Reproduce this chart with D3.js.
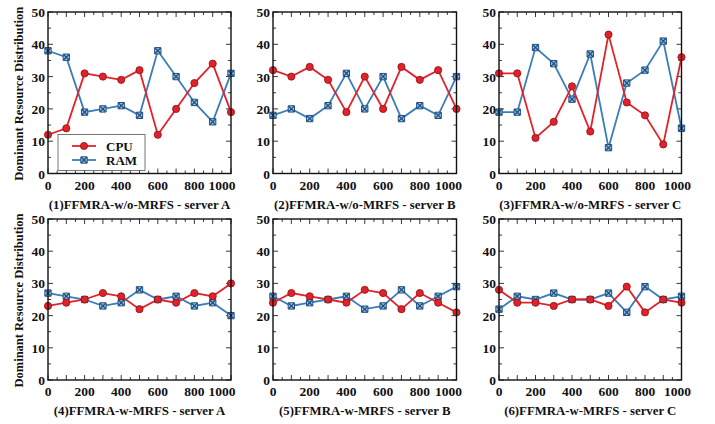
<!DOCTYPE html>
<html><head><meta charset="utf-8">
<script src="https://cdn.jsdelivr.net/npm/d3@7"></script>
<style>
html,body{margin:0;padding:0;background:#fff;}
svg text{font-family:"Liberation Serif","Times New Roman",serif;font-weight:bold;fill:#111;}
</style></head>
<body><svg id="c" width="715" height="424"></svg>
<script>
const xValues = [0,100,200,300,400,500,600,700,800,900,1000];
const xTicks = [0,200,400,600,800,1000];
const yTicks = [0,10,20,30,40,50];
const titles = [
  "(1)FFMRA-w/o-MRFS - server A",
  "(2)FFMRA-w/o-MRFS - server B",
  "(3)FFMRA-w/o-MRFS - server C",
  "(4)FFMRA-w-MRFS - server A",
  "(5)FFMRA-w-MRFS - server B",
  "(6)FFMRA-w-MRFS - server C"
];
const cpu1 = [12,14,31,30,29,32,12,20,28,34,19];
const ram1 = [38,36,19,20,21,18,38,30,22,16,31];
const cpu2 = [32,30,33,29,19,30,20,33,29,32,20];
const ram2 = [18,20,17,21,31,20,30,17,21,18,30];
const cpu3 = [31,31,11,16,27,13,43,22,18,9,36];
const ram3 = [19,19,39,34,23,37,8,28,32,41,14];
const cpu4 = [23,24,25,27,26,22,25,24,27,26,30];
const ram4 = [27,26,25,23,24,28,25,26,23,24,20];
const cpu5 = [24,27,26,25,24,28,27,22,27,24,21];
const ram5 = [26,23,24,25,26,22,23,28,23,26,29];
const cpu6 = [28,24,24,23,25,25,23,29,21,25,24];
const ram6 = [22,26,25,27,25,25,27,21,29,25,26];
const seriesNames = ["CPU","RAM"];
const yLabel = "Dominant Resource Distribution";

const panels = [
  {cpu:cpu1, ram:ram1}, {cpu:cpu2, ram:ram2}, {cpu:cpu3, ram:ram3},
  {cpu:cpu4, ram:ram4}, {cpu:cpu5, ram:ram5}, {cpu:cpu6, ram:ram6}
];
const RED = "#e2222b", BLUE = "#3a7db8";
const colL = [48, 273, 499], colR = [231, 456.5, 681.5];
const rowT = [12, 219], rowB = [173.5, 380];
const lastDx = [-9, -8, -4];

const svg = d3.select("#c");

function drawX(g, x, y){
  g.append("path")
   .attr("d", d3.symbol().type(d3.symbolSquare).size(40)())
   .attr("transform", `translate(${x},${y})`)
   .attr("fill", "#9cc3e6").attr("stroke", "#1f4f80").attr("stroke-width", 1);
  const r = 2.8;
  g.append("path")
   .attr("d", `M${x-r},${y-r}L${x+r},${y+r}M${x-r},${y+r}L${x+r},${y-r}`)
   .attr("stroke", "#1f4f80").attr("stroke-width", 1.3);
}
function drawDot(g, x, y){
  g.append("circle").attr("cx", x).attr("cy", y).attr("r", 3.6)
   .attr("fill", RED).attr("stroke", "#8a1016").attr("stroke-width", 0.8);
}

panels.forEach((p, i) => {
  const col = i % 3, row = Math.floor(i / 3);
  const L = colL[col], R = colR[col], T = rowT[row], B = rowB[row];
  const xs = d3.scaleLinear().domain([0, 1000]).range([L, R]);
  const ys = d3.scaleLinear().domain([0, 50]).range([B, T]);
  const g = svg.append("g");

  const minorX = d3.range(0, 1001, 50), minorY = d3.range(0, 51, 5);
  const tk = g.append("g").attr("stroke", "#222").attr("stroke-width", 0.9);
  minorX.forEach(v => {
    const len = v % 100 === 0 ? 5 : 3;
    tk.append("line").attr("x1", xs(v)).attr("x2", xs(v)).attr("y1", B).attr("y2", B - len);
    tk.append("line").attr("x1", xs(v)).attr("x2", xs(v)).attr("y1", T).attr("y2", T + len);
  });
  minorY.forEach(v => {
    const len = v % 10 === 0 ? 5 : 3;
    tk.append("line").attr("y1", ys(v)).attr("y2", ys(v)).attr("x1", L).attr("x2", L + len);
    tk.append("line").attr("y1", ys(v)).attr("y2", ys(v)).attr("x1", R).attr("x2", R - len);
  });

  const line = d3.line().x((d, k) => xs(xValues[k])).y(d => ys(d));
  g.append("path").datum(p.ram).attr("d", line).attr("fill", "none")
   .attr("stroke", BLUE).attr("stroke-width", 1.8);
  g.append("path").datum(p.cpu).attr("d", line).attr("fill", "none")
   .attr("stroke", RED).attr("stroke-width", 1.8);
  p.ram.forEach((v, k) => drawX(g, xs(xValues[k]), ys(v)));
  p.cpu.forEach((v, k) => drawDot(g, xs(xValues[k]), ys(v)));

  g.append("rect").attr("x", L).attr("y", T).attr("width", R - L).attr("height", B - T)
   .attr("fill", "none").attr("stroke", "#111").attr("stroke-width", 1.4);

  xTicks.forEach(v => {
    g.append("text").attr("x", xs(v) + (v === 1000 ? lastDx[col] : 0)).attr("y", B + 16)
     .attr("text-anchor", "middle").attr("font-size", 13.5).text(v);
  });
  yTicks.forEach(v => {
    g.append("text").attr("x", L - 3).attr("y", ys(v) + 5)
     .attr("text-anchor", "end").attr("font-size", 13.5).text(v);
  });
  g.append("text").attr("x", (L + R) / 2).attr("y", B + 35)
   .attr("text-anchor", "middle").attr("font-size", 12.8).text(titles[i]);

  if (col === 0) {
    g.append("text").attr("transform", `translate(22.5,${(T + B) / 2 + 1}) rotate(-90)`)
     .attr("text-anchor", "middle").attr("font-size", 13)
     .attr("textLength", 174).attr("lengthAdjust", "spacingAndGlyphs").text(yLabel);
  }

  if (i === 0) {
    const lg = g.append("g");
    lg.append("rect").attr("x", 58).attr("y", 134.5).attr("width", 87).attr("height", 36)
      .attr("fill", "#fff").attr("stroke", "#555").attr("stroke-width", 0.8);
    const ly = [146, 160];
    lg.append("line").attr("x1", 72).attr("x2", 96).attr("y1", ly[0]).attr("y2", ly[0])
      .attr("stroke", RED).attr("stroke-width", 1.8);
    drawDot(lg, 84, ly[0]);
    lg.append("line").attr("x1", 72).attr("x2", 96).attr("y1", ly[1]).attr("y2", ly[1])
      .attr("stroke", BLUE).attr("stroke-width", 1.8);
    drawX(lg, 84, ly[1]);
    seriesNames.forEach((n, k) => {
      lg.append("text").attr("x", 106).attr("y", ly[k] + 4.5).attr("font-size", 13).text(n);
    });
  }
});
</script></body></html>
